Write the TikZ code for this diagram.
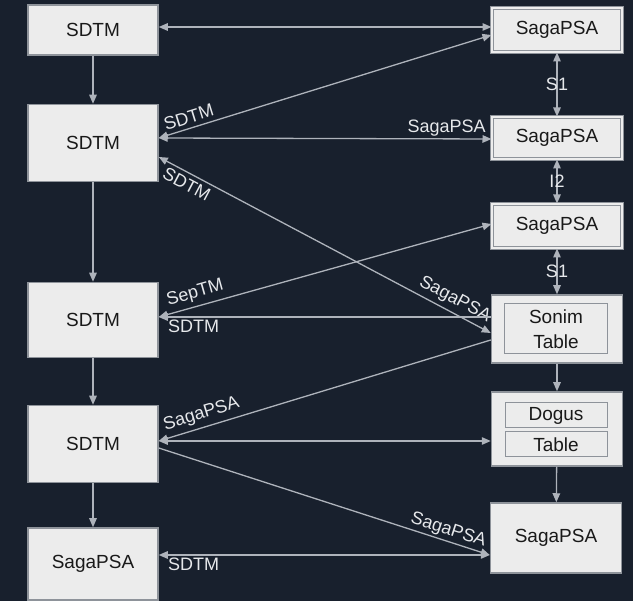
\documentclass[tikz,border=0pt]{standalone}
\usepackage{fontspec}
\setmainfont{Liberation Sans}
\usetikzlibrary{arrows.meta,positioning}
\definecolor{bgnavy}{HTML}{18202D}
\definecolor{linegray}{HTML}{AEB3BB}
\definecolor{boxfill}{HTML}{ECECEC}
\definecolor{boxline}{HTML}{8E939A}
\definecolor{labelwhite}{HTML}{E6E8EB}

\begin{document}
\begin{tikzpicture}[x=1pt, y=-1pt,
  box/.style={draw=boxline, line width=1.5pt, fill=boxfill, text=black!90,
    minimum width=130pt, inner sep=0pt, align=center,
    font=\fontsize{19}{25}\selectfont},
  dbox/.style={box, line width=1pt, double=boxfill!96!white, double distance=2pt},
  inbox/.style={draw=boxline, line width=1pt, fill=boxfill, text=black!90,
    inner sep=0pt, align=center, font=\fontsize{19}{25}\selectfont},
  link/.style={draw=linegray, line width=1.3pt, -{Triangle[length=9pt,width=7.5pt]}},
  both/.style={link, {Triangle[length=9pt,width=7.5pt]}-{Triangle[length=9pt,width=7.5pt]}},
  lbl/.style={text=labelwhite, inner sep=2pt, font=\fontsize{18}{20}\selectfont}]

  % background
  \fill[bgnavy] (0,0) rectangle (633,601);
  \useasboundingbox (0,0) rectangle (633,601);

  % left column
  \node[box, minimum height=50pt] (sdtmA) at (93,30) {SDTM};
  \node[box, minimum height=77pt] (sdtmB) at (93,143) {SDTM};
  \node[box, minimum height=75pt] (sdtmC) at (93,320) {SDTM};
  \node[box, minimum height=77pt] (sdtmD) at (93,444) {SDTM};
  \node[box, minimum height=72pt] (sagaL) at (93,564) {SagaPSA};

  % right column
  \node[dbox, minimum height=44pt] (sagaA) at (557,30) {SagaPSA};
  \node[dbox, minimum height=42pt] (sagaB) at (557,138) {SagaPSA};
  \node[dbox, minimum height=44pt] (sagaC) at (557,226) {SagaPSA};
  \node[box, minimum width=131pt, minimum height=68pt] (sonim) at (557,329) {};
  \node[inbox, minimum width=103pt, minimum height=50pt] (sonimIn) at (556,329) {Sonim\\Table};
  \node[box, minimum width=131pt, minimum height=74pt] (dogus) at (557,429) {};
  \node[inbox, minimum width=102pt, minimum height=25pt] (dogusIn) at (556,415.5) {Dogus};
  \node[inbox, minimum width=102pt, minimum height=25pt] (dogusTab) at (556,444.5) {Table};
  \node[box, minimum width=131pt, minimum height=70pt] (sagaR) at (556,538) {SagaPSA};

  % left column flow
  \draw[link] (sdtmA) -- (sdtmB);
  \draw[link] (sdtmB) -- (sdtmC);
  \draw[link] (sdtmC) -- (sdtmD);
  \draw[link] (sdtmD) -- (sagaL);

  % right column flow
  \draw[both] (sagaA) -- node[lbl] (sA) {S1} (sagaB);
  \draw[both] (sagaB) -- node[lbl] (iB) {I2} (sagaC);
  \draw[both] (sagaC) -- node[lbl] (sC) {S1} (sonim);
  \draw[link] (sonim) -- (dogus);
  \draw[link] (dogus) -- (sagaR);

  % cross links
  \draw[both] ([yshift=3pt]sdtmA.east) -- ([yshift=3pt]sagaA.west);
  \draw[both] ([yshift=5pt]sdtmB.east) -- node[lbl, pos=0.1, sloped, above=2pt] (tB) {SDTM} ([yshift=-5pt]sagaA.west);
  \draw[both] ([yshift=5pt]sdtmB.east) -- node[lbl, pos=0.865, above] (tS) {SagaPSA} ([yshift=-1pt]sagaB.west);
  \draw[both] ([yshift=-14pt]sdtmB.east) -- node[lbl, pos=0.1, sloped, below=2pt] (tD) {SDTM}
    node[lbl, pos=0.874, sloped, above=2pt] (tE) {SagaPSA} ([yshift=-4pt]sonim.west);
  \draw[both] ([yshift=3pt]sdtmC.east) -- node[lbl, pos=0.12, sloped, above=2pt] (tF) {SepTM} ([yshift=2pt]sagaC.west);
  \draw[link] ([yshift=12pt]sonim.west) -- node[lbl, pos=0.895, below] (tG) {SDTM} ([yshift=3pt]sdtmC.east);
  \draw[link] ([yshift=-11pt]sonim.west) -- node[lbl, pos=0.86, sloped, above=2pt] (tH) {SagaPSA} ([yshift=3pt]sdtmD.east);
  \draw[both] ([yshift=3pt]sdtmD.east) -- ([yshift=-12pt]dogus.west);
  \draw[link] ([yshift=-4pt]sdtmD.east) -- node[lbl, pos=0.865, sloped, above] (tJ) {SagaPSA} ([yshift=-17pt]sagaR.west);
  \draw[both] ([yshift=9pt]sagaL.east) -- node[lbl, pos=0.105, below] (tK) {SDTM} ([yshift=-17pt]sagaR.west);
\end{tikzpicture}
\end{document}
